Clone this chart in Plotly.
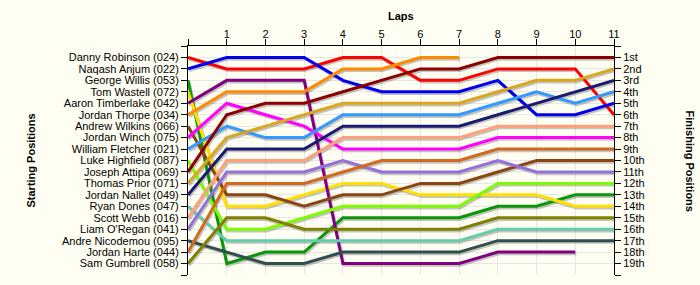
import plotly.graph_objects as go

laps = list(range(0, 12))
lap_labels = [""] + [str(i) for i in range(1, 12)]

drivers = [
    "Danny Robinson (024)", "Naqash Anjum (022)", "George Willis (053)",
    "Tom Wastell (072)", "Aaron Timberlake (042)", "Jordan Thorpe (034)",
    "Andrew Wilkins (066)", "Jordan Winch (075)", "William Fletcher (021)",
    "Luke Highfield (087)", "Joseph Attipa (069)", "Thomas Prior (071)",
    "Jordan Nallet (049)", "Ryan Dones (047)", "Scott Webb (016)",
    "Liam O'Regan (041)", "Andre Nicodemou (095)", "Jordan Harte (044)",
    "Sam Gumbrell (058)",
]

finish_labels = ["1st", "2nd", "3rd", "4th", "5th", "6th", "7th", "8th", "9th", "10th",
                 "11th", "12th", "13th", "14th", "15th", "16th", "17th", "18th", "19th"]

# position of each driver at laps 0..11 (None = retired)
pos_robinson = [1, 2, 2, 2, 1, 1, 3, 3, 2, 2, 2, 6]
pos_anjum = [2, 1, 1, 1, 3, 4, 4, 4, 3, 6, 6, 5]
pos_willis = [3, 19, 18, 18, 15, 15, 15, 15, 14, 14, 13, 13]
pos_wastell = [4, 14, 14, 13, 12, 12, 13, 13, 13, 13, 14, 14]
pos_timberlake = [5, 3, 3, 3, 19, 19, 19, 19, 18, 18, 18, None]
pos_thorpe = [6, 4, 4, 4, 2, 2, 1, 1, None, None, None, None]
pos_wilkins = [7, 13, 13, 14, 13, 13, 12, 12, 11, 10, 10, 10]
pos_winch = [8, 5, 6, 7, 9, 9, 9, 9, 8, 8, 8, 8]
pos_fletcher = [9, 7, 8, 8, 6, 6, 6, 6, 5, 4, 5, 4]
pos_highfield = [10, 16, 16, 15, 14, 14, 14, 14, 12, 12, 12, 12]
pos_attipa = [11, 6, 5, 5, 4, 3, 2, 2, 1, 1, 1, 1]
pos_prior = [12, 8, 7, 6, 5, 5, 5, 5, 4, 3, 3, 2]
pos_nallet = [13, 9, 9, 9, 7, 7, 7, 7, 6, 5, 4, 3]
pos_dones = [14, 17, 17, 17, 17, 17, 17, 17, 16, 16, 16, 16]
pos_webb = [15, 10, 10, 10, 8, 8, 8, 8, 7, 7, 7, 7]
pos_oregan = [16, 11, 11, 11, 10, 11, 11, 11, 10, 11, 11, 11]
pos_nicodemou = [17, 18, 19, 19, 18, 18, 18, 18, 17, 17, 17, 17]
pos_harte = [18, 12, 12, 12, 11, 10, 10, 10, 9, 9, 9, 9]
pos_gumbrell = [19, 15, 15, 16, 16, 16, 16, 16, 15, 15, 15, 15]

positions = [pos_robinson, pos_anjum, pos_willis, pos_wastell, pos_timberlake,
             pos_thorpe, pos_wilkins, pos_winch, pos_fletcher, pos_highfield,
             pos_attipa, pos_prior, pos_nallet, pos_dones, pos_webb, pos_oregan,
             pos_nicodemou, pos_harte, pos_gumbrell]

colors = ["#FF0000", "#0000EE", "#0A960A", "#FFE000", "#800080", "#FF8A00",
          "#8B4513", "#FF00FF", "#3399FF", "#7CFC00", "#8B0000", "#DAA520",
          "#1A1A70", "#66CDAA", "#FFA07A", "#9370DB", "#2F4F4F", "#D2691E",
          "#808000"]

BG = "#FFFEF2"
FONT = "Liberation Sans, Arial, sans-serif"

fig = go.Figure()

# shadows (drawn on the shifted primary axes, underneath)
for name, pos in zip(drivers, positions):
    xs = [l for l, p in zip(laps, pos) if p is not None]
    ys = [p for p in pos if p is not None]
    fig.add_trace(go.Scatter(x=xs, y=ys, mode="lines", xaxis="x", yaxis="y",
                             line=dict(color="rgba(90,90,90,0.35)", width=3),
                             hoverinfo="skip", showlegend=False))

# main lines
for name, pos, c in zip(drivers, positions, colors):
    xs = [l for l, p in zip(laps, pos) if p is not None]
    ys = [p for p in pos if p is not None]
    fig.add_trace(go.Scatter(x=xs, y=ys, mode="lines", xaxis="x2", yaxis="y2",
                             name=name, line=dict(color=c, width=3),
                             showlegend=False))

fig.add_trace(go.Scatter(x=[], y=[], xaxis="x2", yaxis="y3", showlegend=False))

ticks_y = list(range(0, 21))
hidden = dict(showgrid=False, showticklabels=False, showline=False,
              zeroline=False, ticks="")

fig.update_layout(
    width=700, height=285,
    margin=dict(l=188, r=86, t=46, b=10),
    paper_bgcolor=BG, plot_bgcolor=BG,
    font=dict(family=FONT, size=11, color="black"),
    showlegend=False,
    xaxis=dict(range=[-0.03, 10.97], **hidden),
    yaxis=dict(range=[19.85, -0.15], **hidden),
    xaxis2=dict(overlaying="x", anchor="y2", side="top", range=[0, 11],
                tickmode="array", tickvals=laps, ticktext=lap_labels,
                ticks="outside", ticklen=6, tickcolor="black",
                ticklabelstandoff=-3,
                showline=True, linecolor="black", linewidth=1,
                showgrid=True, gridcolor="#E6E6E6", gridwidth=1, zeroline=False,
                tickfont=dict(size=11, color="black")),
    yaxis2=dict(overlaying="y", anchor="x2", side="left", range=[20, 0],
                tickmode="array", tickvals=ticks_y,
                ticktext=[""] + drivers + [""],
                ticks="outside", ticklen=6, tickcolor="black",
                showline=True, linecolor="black", linewidth=1,
                showgrid=True, gridcolor="#E6E6E6", gridwidth=1, zeroline=False,
                tickfont=dict(size=11, color="black")),
    yaxis3=dict(overlaying="y", anchor="x2", side="right", range=[20, 0],
                tickmode="array", tickvals=ticks_y,
                ticktext=[""] + finish_labels + [""],
                ticks="outside", ticklen=6, tickcolor="black",
                showline=True, linecolor="black", linewidth=1,
                showgrid=False, zeroline=False,
                tickfont=dict(size=11, color="black")),
    annotations=[
        dict(text="<b>Laps</b>", xref="paper", yref="paper", x=0.5, y=1,
             yanchor="middle", yshift=30, showarrow=False,
             font=dict(size=11, color="black")),
        dict(text="<b>Starting Positions</b>", xref="paper", yref="paper",
             x=0, y=0.5, xshift=-158, textangle=-90, showarrow=False,
             xanchor="center", yanchor="middle",
             font=dict(size=11, color="black")),
        dict(text="<b>Finishing Positions</b>", xref="paper", yref="paper",
             x=1, y=0.5, xshift=76, textangle=90, showarrow=False,
             xanchor="center", yanchor="middle",
             font=dict(size=11, color="black")),
    ],
)

fig.write_html("out.html")
